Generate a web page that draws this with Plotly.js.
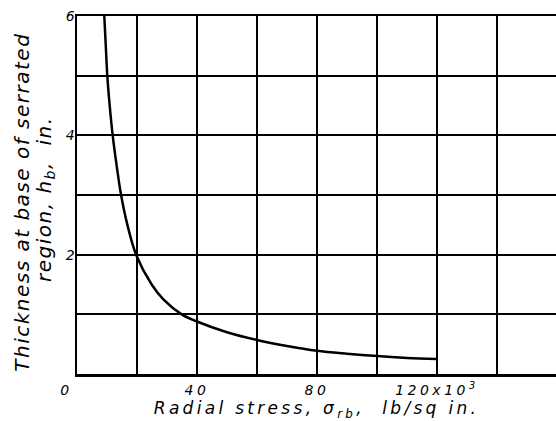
<!DOCTYPE html>
<html>
<head>
<meta charset="utf-8">
<script src="https://cdn.plot.ly/plotly-3.0.1.min.js"></script>
<style>
html,body{margin:0;padding:0;background:#fff;}
#chart{width:556px;height:421px;}
#chart .xtick text{letter-spacing:3.5px;}
#chart .xtitle{letter-spacing:3.3px;}
#chart .annotation text{letter-spacing:1.5px;}
</style>
</head>
<body>
<div id="chart"></div>
<script>
// Radial stress (x 10^3 lb/sq in.)
const stress = [9.1, 9.6, 10.1, 10.9, 11.9, 13.2, 14.7, 16.8, 19.7, 24.9, 28.8, 34.9, 40, 50, 60, 70, 80, 90, 100, 110, 120];
// Thickness at base of serrated region, h_b (in.)
const thickness = [6, 5.5, 5, 4.5, 4, 3.5, 3, 2.5, 2, 1.5, 1.25, 1.0, 0.88, 0.70, 0.57, 0.47, 0.39, 0.34, 0.30, 0.27, 0.25];

const xTickVals = [20, 40, 60, 80, 100, 120, 140];
const xTickText = ['', '40', '', '80', '', '120x10<sup>3</sup>', ''];
const yTickVals = [1, 2, 3, 4, 5, 6];
const yTickText = ['', '2', '', '4', '', '6'];

const FONT = 'DejaVu Sans, sans-serif';
const tickFont = {family: FONT, size: 14, color: '#000', style: 'italic'};
const titleFont = {family: FONT, size: 17, color: '#000', style: 'italic'};
const yTitleFont = {family: FONT, size: 20, color: '#000', style: 'italic'};

const trace = {
  x: stress, y: thickness, type: 'scatter', mode: 'lines',
  line: {color: '#000', width: 2.5, shape: 'spline', smoothing: 1},
  hoverinfo: 'skip', showlegend: false
};

const layout = {
  width: 556, height: 421,
  margin: {l: 77, r: 0, t: 16, b: 47},
  paper_bgcolor: '#fff', plot_bgcolor: '#fff',
  font: tickFont,
  xaxis: {
    range: [0, 159.7], tickmode: 'array', tickvals: xTickVals, ticktext: xTickText,
    showgrid: true, gridcolor: '#000', gridwidth: 2,
    showline: true, linecolor: '#000', linewidth: 2.5, mirror: true,
    zeroline: false, ticks: '', ticklabelstandoff: 2,
    tickfont: tickFont,
    title: {text: 'Radial stress, σ<sub>rb</sub>,  lb/sq in.', font: titleFont, standoff: 1}
  },
  yaxis: {
    range: [0, 6], tickmode: 'array', tickvals: yTickVals, ticktext: yTickText,
    showgrid: true, gridcolor: '#000', gridwidth: 2,
    showline: true, linecolor: '#000', linewidth: 2.5, mirror: false,
    zeroline: false, ticks: '', ticklabelstandoff: -3,
    tickfont: tickFont
  },
  annotations: [
    {text: '0', xref: 'x', yref: 'paper', x: 0, y: 0, xanchor: 'right', yanchor: 'top',
     xshift: -5, yshift: -6, showarrow: false, font: tickFont},
    {text: 'Thickness at base of serrated', xref: 'paper', yref: 'paper',
     x: (22 - 77) / 479, y: (374 - 202) / 358, xanchor: 'center', yanchor: 'middle',
     textangle: -90, showarrow: false, font: yTitleFont},
    {text: 'region, h<sub>b</sub>,  in.', xref: 'paper', yref: 'paper',
     x: (45 - 77) / 479, y: (374 - 199) / 358, xanchor: 'center', yanchor: 'middle',
     textangle: -90, showarrow: false, font: yTitleFont}
  ]
};

Plotly.newPlot('chart', [trace], layout, {staticPlot: true, displayModeBar: false});
</script>
</body>
</html>
